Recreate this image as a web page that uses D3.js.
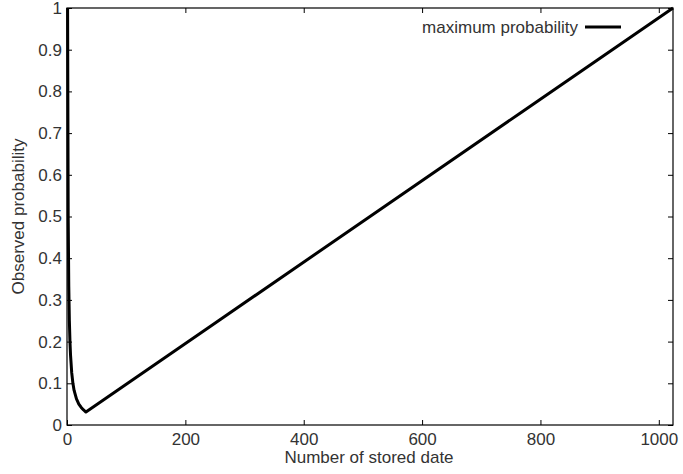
<!DOCTYPE html>
<html>
<head>
<meta charset="utf-8">
<script src="https://cdn.jsdelivr.net/npm/d3@7"></script>
<style>
  body { margin: 0; background: #fff; }
  svg text { font-family: "Liberation Sans", Arial, sans-serif; fill: #333; }
</style>
</head>
<body>
<div id="chart"></div>
<script>
// values
const storedCount = [1, 2, 3, 4, 5, 6, 8, 10, 12, 16, 20, 24, 28, 32, 256, 512, 768, 1024];
const maxProb = [1, 0.5, 0.333, 0.25, 0.2, 0.167, 0.125, 0.1, 0.083, 0.0625, 0.05, 0.042, 0.036, 0.031, 0.25, 0.5, 0.75, 1];
const xTicks = [0, 200, 400, 600, 800, 1000];
const yTicks = [0, 0.1, 0.2, 0.3, 0.4, 0.5, 0.6, 0.7, 0.8, 0.9, 1];
const seriesName = "maximum probability";

const width = 683, height = 474;
const margin = {top: 8, right: 10, bottom: 49, left: 67};
const fontSize = "17px";

const svg = d3.select("#chart").append("svg")
  .attr("width", width)
  .attr("height", height);

const x = d3.scaleLinear().domain([0, 1024]).range([margin.left, width - margin.right]);
const y = d3.scaleLinear().domain([0, 1]).range([height - margin.bottom, margin.top]);

//ticks on all four sides, pointing inward
const tickLen = 5;
function styleAxis(g) {
  g.select(".domain").remove();
  g.selectAll(".tick line").attr("stroke", "#000");
  g.selectAll(".tick text").style("font-size", fontSize);
}

svg.append("g")
  .attr("transform", `translate(0,${height - margin.bottom})`)
  .call(d3.axisBottom(x).tickValues(xTicks).tickSizeInner(-tickLen).tickPadding(8).tickFormat(d3.format("d")))
  .call(styleAxis);

svg.append("g")
  .attr("transform", `translate(0,${margin.top})`)
  .call(d3.axisTop(x).tickValues(xTicks).tickSizeInner(-tickLen).tickFormat(""))
  .call(styleAxis);

svg.append("g")
  .attr("transform", `translate(${margin.left},0)`)
  .call(d3.axisLeft(y).tickValues(yTicks).tickSizeInner(-tickLen).tickPadding(5).tickFormat(d3.format("")))
  .call(styleAxis);

svg.append("g")
  .attr("transform", `translate(${width - margin.right},0)`)
  .call(d3.axisRight(y).tickValues(yTicks).tickSizeInner(-tickLen).tickFormat(""))
  .call(styleAxis);

// plot border
svg.append("rect")
  .attr("x", margin.left)
  .attr("y", margin.top)
  .attr("width", width - margin.left - margin.right)
  .attr("height", height - margin.top - margin.bottom)
  .attr("fill", "none")
  .attr("stroke", "#000")
  .attr("stroke-width", 1.2);

// the curve
const points = storedCount.map((n, i) => [n, maxProb[i]]);
svg.append("path")
  .datum(points)
  .attr("fill", "none")
  .attr("stroke", "#000")
  .attr("stroke-width", 3)
  .attr("stroke-linejoin", "round")
  .attr("d", d3.line().x(d => x(d[0])).y(d => y(d[1])));

// legend
svg.append("text")
  .attr("x", 578)
  .attr("y", 33)
  .attr("text-anchor", "end")
  .style("font-size", fontSize)
  .text(seriesName);
svg.append("line")
  .attr("x1", 585).attr("x2", 621)
  .attr("y1", 27).attr("y2", 27)
  .attr("stroke", "#000")
  .attr("stroke-width", 3);

// axis titles
svg.append("text")
  .attr("x", 369)
  .attr("y", 463)
  .attr("text-anchor", "middle")
  .style("font-size", fontSize)
  .text("Number of stored date");

svg.append("text")
  .attr("transform", `translate(24,${(margin.top + height - margin.bottom) / 2}) rotate(-90)`)
  .attr("text-anchor", "middle")
  .style("font-size", fontSize)
  .text("Observed probability");
</script>
</body>
</html>
